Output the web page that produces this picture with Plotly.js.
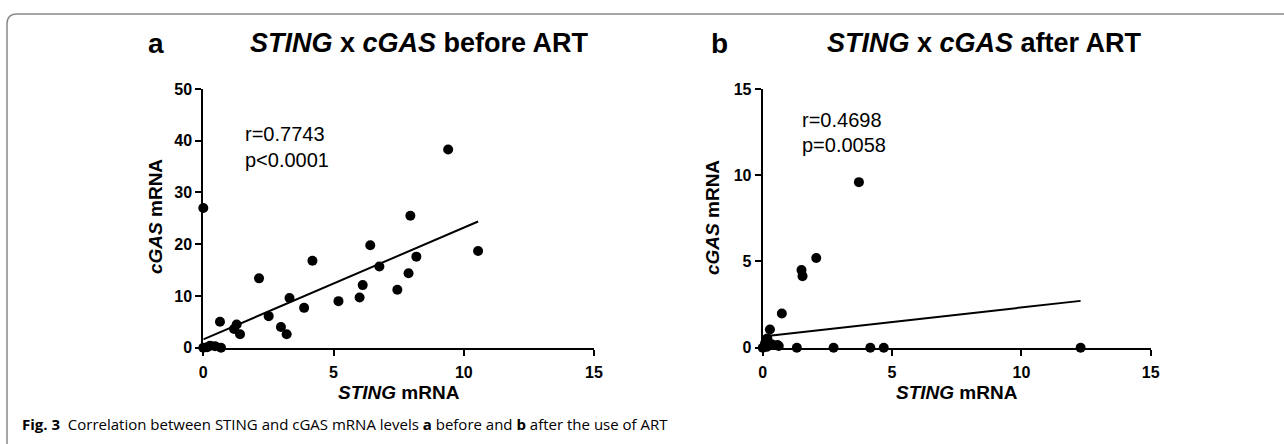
<!DOCTYPE html>
<html>
<head>
<meta charset="utf-8">
<script src="https://cdn.plot.ly/plotly-3.0.1.min.js"></script>
<style>
html,body{margin:0;padding:0;background:#fff;}
#chart{width:1284px;height:444px;}
</style>
</head>
<body>
<div id="chart"></div>
<script>
// ---- Data: panel a (before ART) ----
const stingBefore = [0, 9.40, 7.95, 10.55, 6.41, 4.19, 8.18, 6.76, 7.88, 2.14, 6.12, 7.45, 6.00, 5.19, 3.31, 3.87, 2.51, 2.98, 3.20, 0.64, 1.28, 1.18, 1.41, 0, 0.26, 0.45, 0.68, 0.15];
const cgasBefore  = [27.0, 38.3, 25.5, 18.7, 19.8, 16.8, 17.6, 15.7, 14.4, 13.4, 12.1, 11.2, 9.7, 9.0, 9.6, 7.7, 6.1, 4.0, 2.6, 5.0, 4.5, 3.6, 2.6, 0, 0.4, 0.3, 0, 0.1];
// ---- Data: panel b (after ART) ----
const stingAfter = [3.72, 2.07, 1.50, 1.54, 0.74, 0.28, 0.18, 0.09, 0.57, 1.32, 2.74, 4.16, 4.68, 12.29, 0, 0.15, 0.35, 0.62];
const cgasAfter  = [9.6, 5.2, 4.5, 4.15, 1.98, 1.06, 0.54, 0.25, 0.15, 0, 0, 0, 0, 0, 0, 0.05, 0.2, 0.1];
// ---- Linear fits ----
const fitBefore = {slope: 2.16, intercept: 1.6};
const fitAfter  = {slope: 0.168, intercept: 0.65};
// ---- Stats and tick labels ----
const statsBefore = ["r=0.7743", "p&lt;0.0001"];
const statsAfter  = ["r=0.4698", "p=0.0058"];
const xTicks = [0, 5, 10, 15];
const yTicksBefore = [0, 10, 20, 30, 40, 50];
const yTicksAfter = [0, 5, 10, 15];
const caption = "<b>Fig. 3</b>  Correlation between STING and cGAS mRNA levels <b>a</b> before and <b>b</b> after the use of ART";

const W = 1284, H = 444;
const px = x => x / W;
const py = y => 1 - y / H;

function fitLine(xs, fit) {
  const x0 = Math.min(...xs), x1 = Math.max(...xs);
  return {x: [x0, x1], y: [fit.intercept + fit.slope * x0, fit.intercept + fit.slope * x1]};
}
const lA = fitLine(stingBefore, fitBefore);
const lB = fitLine(stingAfter, fitAfter);

const mk = {color: '#000', size: 10};
const traces = [
  {x: stingBefore, y: cgasBefore, type: 'scatter', mode: 'markers', marker: mk, cliponaxis: false, xaxis: 'x', yaxis: 'y'},
  {x: lA.x, y: lA.y, type: 'scatter', mode: 'lines', line: {color: '#000', width: 2}, cliponaxis: false, xaxis: 'x', yaxis: 'y'},
  {x: stingAfter, y: cgasAfter, type: 'scatter', mode: 'markers', marker: mk, cliponaxis: false, xaxis: 'x2', yaxis: 'y2'},
  {x: lB.x, y: lB.y, type: 'scatter', mode: 'lines', line: {color: '#000', width: 2}, cliponaxis: false, xaxis: 'x2', yaxis: 'y2'}
];

const tickFont = {family: 'Liberation Sans, Arial, sans-serif', size: 16, color: '#000', weight: 'bold'};
const axBase = {
  showline: true, linecolor: '#000', linewidth: 2,
  ticks: 'outside', ticklen: 6, tickwidth: 2, tickcolor: '#000',
  showgrid: false, zeroline: false, tickfont: tickFont, fixedrange: true
};
const yDom = [py(347.7), py(89)];

const layout = {
  width: W, height: H,
  margin: {l: 0, r: 0, t: 0, b: 0},
  paper_bgcolor: '#fff', plot_bgcolor: 'rgba(0,0,0,0)',
  showlegend: false,
  xaxis: Object.assign({}, axBase, {domain: [px(203.3), px(594)], range: [0, 15], tickvals: xTicks, ticktext: xTicks.map(String), anchor: 'y', ticklabelstandoff: 3}),
  yaxis: Object.assign({}, axBase, {domain: yDom, range: [0, 50], tickvals: yTicksBefore, ticktext: yTicksBefore.map(String), anchor: 'x'}),
  xaxis2: Object.assign({}, axBase, {domain: [px(762.7), px(1150.7)], range: [0, 15], tickvals: xTicks, ticktext: xTicks.map(String), anchor: 'y2', ticklabelstandoff: 3}),
  yaxis2: Object.assign({}, axBase, {domain: yDom, range: [0, 15], tickvals: yTicksAfter, ticktext: yTicksAfter.map(String), anchor: 'x2'}),
  shapes: [
    {type: 'path', xref: 'paper', yref: 'paper',
     path: `M ${px(7)} ${py(444)} L ${px(7)} ${py(24)} Q ${px(7)} ${py(14)} ${px(17)} ${py(14)} L ${px(1284)} ${py(14)}`,
     line: {color: '#8a8a8a', width: 1.5}}
  ],
  annotations: []
};

const A = layout.annotations;
const arial = 'Liberation Sans, Arial, sans-serif';
function ann(text, x, y, size, opts) {
  A.push(Object.assign({text: text, xref: 'paper', yref: 'paper', x: px(x), y: py(y),
    showarrow: false, xanchor: 'center', yanchor: 'middle',
    font: {family: arial, size: size, color: '#000'}}, opts || {}));
}
// panel letters and titles
ann('<b>a</b>', 156, 43, 28);
ann('<b><i>STING</i> x <i>cGAS</i> before ART</b>', 419, 43, 27);
ann('<b>b</b>', 720, 43, 28);
ann('<b><i>STING</i> x <i>cGAS</i> after ART</b>', 985, 43, 27);
// axis titles
ann('<b><i>cGAS</i> mRNA</b>', 155, 217, 19, {textangle: -90});
ann('<b><i>cGAS</i> mRNA</b>', 712, 217, 19, {textangle: -90});
ann('<b><i>STING</i> mRNA</b>', 399, 392, 19);
ann('<b><i>STING</i> mRNA</b>', 957, 392, 19);
// stats
ann(statsBefore[0], 243, 133.5, 20, {xanchor: 'left'});
ann(statsBefore[1], 243, 159.5, 20, {xanchor: 'left'});
ann(statsAfter[0], 800, 120, 20, {xanchor: 'left'});
ann(statsAfter[1], 800, 145, 20, {xanchor: 'left'});
// caption
ann(caption, 20, 424, 15, {xanchor: 'left', font: {family: 'Open Sans, sans-serif', size: 15, color: '#000'}});

Plotly.newPlot('chart', traces, layout, {displayModeBar: false, staticPlot: true});
</script>
</body>
</html>
